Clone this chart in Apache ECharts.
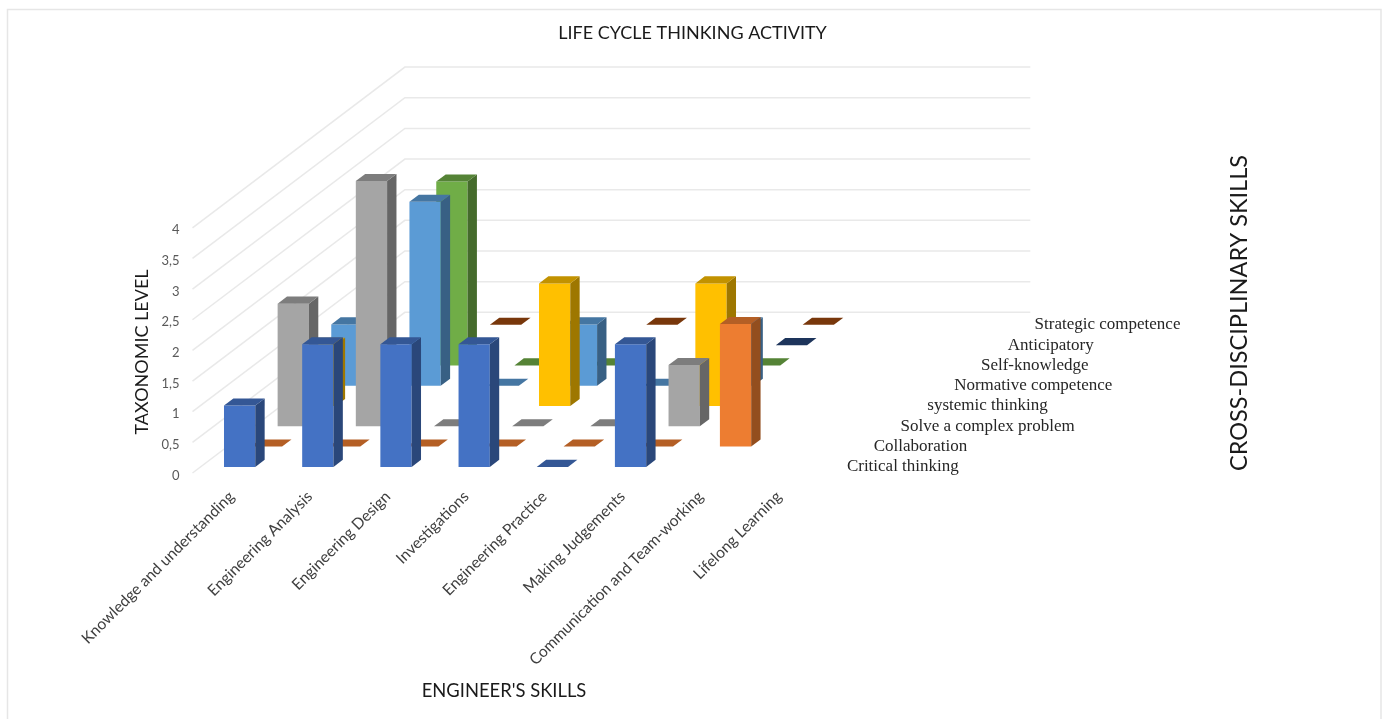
<!DOCTYPE html>
<html>
<head>
<meta charset="utf-8">
<style>
  html, body { margin: 0; padding: 0; background: #fff; }
  #chart { width: 1383px; height: 719px; }
</style>
<script src="https://cdn.jsdelivr.net/npm/echarts@6/dist/echarts.min.js"></script>
</head>
<body>
<div id="chart"></div>
<script>
const skills = ['Knowledge and understanding', 'Engineering Analysis', 'Engineering Design', 'Investigations',
    'Engineering Practice', 'Making Judgements', 'Communication and Team-working', 'Lifelong Learning'];
const rowNames = ['Critical thinking', 'Collaboration', 'Solve a complex problem', 'systemic thinking',
    'Normative competence', 'Self-knowledge', 'Anticipatory', 'Strategic competence'];
const levels = [0, 0.5, 1, 1.5, 2, 2.5, 3, 3.5, 4];

// one list per row of the chart, null = no bar at all, 0 = flat bar
const criticalThinking = [1, 2, 2, 2, 0, 2, null, null];
const collaboration = [0, 0, 0, 0, 0, 0, 2, null];
const solveProblem = [2, 4, 0, 0, 0, 1, null, null];
const systemicThinking = [1, null, null, 2, null, 2, null, null];
const normativeCompetence = [1, 3, 0, 1, 0, 1, null, null];
const selfKnowledge = [null, 3, 0, 0, null, 0, null, null];
const anticipatory = [null, null, null, null, null, 0, null, null];
const strategicCompetence = [null, 0, null, 0, null, 0, null, null];

const rows = [criticalThinking, collaboration, solveProblem, systemicThinking,
    normativeCompetence, selfKnowledge, anticipatory, strategicCompetence];
const rowColors = ['#4472C4', '#ED7D31', '#A5A5A5', '#FFC000', '#5B9BD5', '#70AD47', '#264478', '#9E480E'];

// oblique projection: how far one row of depth moves a point
const DEPTH_X = 0.343;   // in category bands
const DEPTH_Y = 0.331;   // in value units
const WALL_DEPTH = 7.92;
const BAR_WIDTH = 0.4;
const BAR_DEPTH = 0.35;
const BAR_FRONT = 0.3;

function project(api, cat, depth, value, bandOffset) {
    const base = api.coord([cat, value]);
    const band = api.size([1, 0])[0];
    const unit = api.size([0, 1])[1];
    return [base[0] + ((bandOffset || 0) + depth * DEPTH_X) * band, base[1] - depth * DEPTH_Y * unit];
}

function shade(hex, k) {
    const n = parseInt(hex.slice(1), 16);
    const c = [n >> 16, (n >> 8) & 255, n & 255].map(v => Math.round(v * k));
    return 'rgb(' + c.join(',') + ')';
}

function face(points, fill) {
    return { type: 'polygon', shape: { points: points }, style: { fill: fill } };
}

function renderBar(row) {
    return function (params, api) {
        const cat = api.value(0);
        const value = api.value(1);
        const color = rowColors[row];
        const d0 = row + BAR_FRONT;
        const d1 = d0 + BAR_DEPTH;
        const l = -BAR_WIDTH / 2;
        const r = BAR_WIDTH / 2;
        const children = [];
        if (value > 0) {
            children.push(face([project(api, cat, d0, 0, l), project(api, cat, d0, 0, r),
                project(api, cat, d0, value, r), project(api, cat, d0, value, l)], color));
            children.push(face([project(api, cat, d0, 0, r), project(api, cat, d1, 0, r),
                project(api, cat, d1, value, r), project(api, cat, d0, value, r)], shade(color, 0.62)));
        }
        children.push(face([project(api, cat, d0, value, l), project(api, cat, d0, value, r),
            project(api, cat, d1, value, r), project(api, cat, d1, value, l)], shade(color, 0.76)));
        return { type: 'group', children: children };
    };
}

function renderWallLine(params, api) {
    const value = api.value(1);
    return {
        type: 'polyline',
        shape: { points: [project(api, 0, 0, value, -0.5), project(api, 0, WALL_DEPTH, value, -0.5),
            project(api, 7, WALL_DEPTH, value, 0.5)] },
        style: { stroke: '#e9e9e9', lineWidth: 1.5, fill: 'none' }
    };
}

function renderRowLabel(params, api) {
    const p = project(api, 7, params.dataIndex + 0.35, 0, 0.75);
    return {
        type: 'text', x: p[0], y: p[1] + 1,
        style: { text: rowNames[params.dataIndex], fill: '#262626', fontFamily: 'Liberation Serif', fontSize: 17,
            textAlign: 'left', textVerticalAlign: 'middle' }
    };
}

const barSeries = rows.map((values, row) => ({
    name: rowNames[row],
    type: 'custom',
    silent: true,
    renderItem: renderBar(row),
    data: values.map((v, i) => [i, v]).filter(d => d[1] !== null)
})).reverse();   // back row first so the front rows paint over it

const axisTitle = { fontFamily: 'Lato', fill: '#1a1a1a', textAlign: 'center', textVerticalAlign: 'middle' };

const option = {
    animation: false,
    backgroundColor: '#fff',
    title: {
        text: 'LIFE CYCLE THINKING ACTIVITY', left: 687.5, top: 19, textAlign: 'center',
        textStyle: { fontFamily: 'Lato', fontSize: 18, fontWeight: 'normal', color: '#1a1a1a' }
    },
    grid: { left: 192.5, top: 59.2, width: 860, height: 413.8 },
    xAxis: {
        type: 'category',
        data: skills.concat(['', '', '']),
        axisLine: { show: false },
        axisTick: { show: false },
        axisLabel: { interval: 0, rotate: 45, margin: 21, fontFamily: 'Lato', fontSize: 15.6, color: '#404040' }
    },
    yAxis: {
        type: 'value', min: 0, max: 6.75, interval: 0.5,
        axisLine: { show: false },
        axisTick: { show: false },
        splitLine: { show: false },
        axisLabel: {
            margin: 13, fontFamily: 'Lato', fontSize: 13, color: '#595959', verticalAlign: 'top', lineHeight: 5,
            formatter: v => (v <= 4 ? String(v).replace('.', ',') : '')
        }
    },
    graphic: [
        { type: 'rect', shape: { x: 7.5, y: 9.5, width: 1373.5, height: 720 }, style: { fill: 'none', stroke: '#e6e6e6', lineWidth: 1.5 }, silent: true },
        { type: 'text', x: 504, y: 691, style: Object.assign({ text: "ENGINEER'S SKILLS", fontSize: 18.4 }, axisTitle) },
        { type: 'text', x: 142, y: 352, rotation: Math.PI / 2, style: Object.assign({ text: 'TAXONOMIC LEVEL', fontSize: 18 }, axisTitle) },
        { type: 'text', x: 1239, y: 313, rotation: Math.PI / 2, style: Object.assign({ text: 'CROSS-DISCIPLINARY SKILLS', fontSize: 23.5 }, axisTitle) }
    ],
    series: [
        { type: 'custom', silent: true, renderItem: renderWallLine, data: levels.map(v => [0, v]) }
    ].concat(barSeries, [
        { type: 'custom', silent: true, renderItem: renderRowLabel, data: rowNames.map(() => [0, 0]) }
    ])
};

const myChart = echarts.init(document.getElementById('chart'));
myChart.setOption(option);
</script>
</body>
</html>
